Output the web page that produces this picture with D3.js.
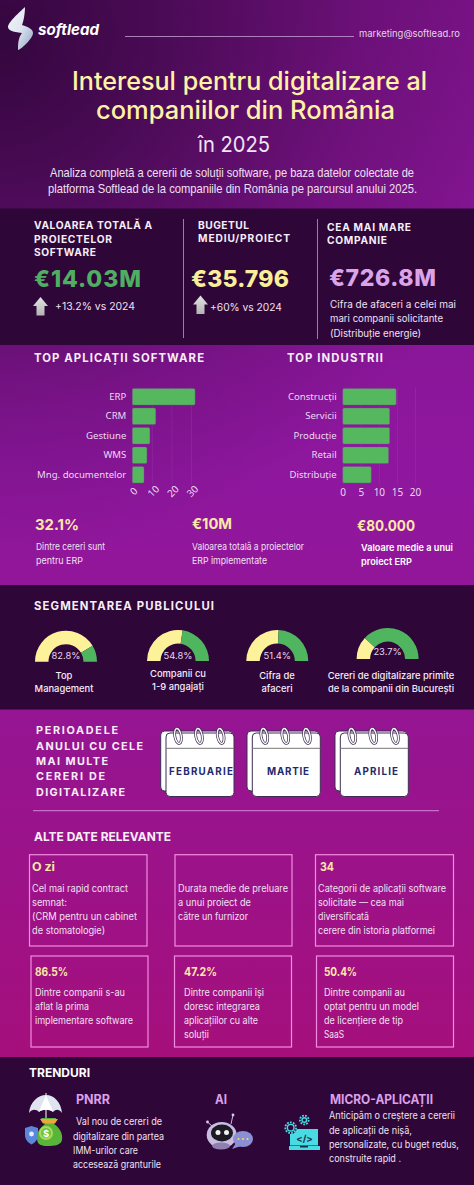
<!DOCTYPE html>
<html><head><meta charset="utf-8">
<script src="https://cdn.jsdelivr.net/npm/d3@7"></script>
<style>html,body{margin:0;padding:0;background:#36083f}svg{display:block}</style>
</head><body><svg id="c" width="474" height="1185"></svg>
<script>
// ---- data ----
const appNames = ["ERP","CRM","Gestiune","WMS","Mng. documentelor"];
const appValues = [32.1,12,9,7.5,6];
const appTicks = [0,10,20,30];
const industryNames = ["Construcții","Servicii","Producție","Retail","Distribuție"];
const industryValues = [14.8,13,13,12.7,7.9];
const industryTicks = [0,5,10,15,20];
const gaugeValues = [82.8,54.8,51.4,23.7];
const gaugeLabels = [["Top","Management"],["Companii cu","1-9 angajați"],["Cifra de","afaceri"],["Cereri de digitalizare primite","de la companii din București"]];
const months = ["FEBRUARIE","MARTIE","APRILIE"];

const FONT="Inter,'Liberation Sans',Arial,sans-serif", NOTO="'Noto Sans',sans-serif", LIB="'Liberation Sans',Arial,sans-serif";
const svg=d3.select("#c");
const defs=svg.append("defs");
function grad(id,a,stops,tag="linearGradient"){const g=defs.append(tag).attr("id",id);
  Object.entries(a).forEach(([k,v])=>g.attr(k,v));
  stops.forEach(s=>g.append("stop").attr("offset",s[0]).attr("stop-color",s[1]).attr("stop-opacity",s[2]===undefined?1:s[2]));}
grad("bg",{gradientUnits:"userSpaceOnUse",x1:0,y1:0,x2:0,y2:1185},[[0,"#7c1389"],[.4,"#8f179f"],[.65,"#97148f"],[.9,"#a60f7c"],[1,"#a60f7c"]]);
grad("dark",{gradientUnits:"userSpaceOnUse",cx:0,cy:40,r:520,fx:0,fy:40},[[0,"#30063a",.95],[.35,"#30063a",.62],[.7,"#30063a",.22],[1,"#30063a",0]],"radialGradient");
grad("logo",{x1:0,y1:0,x2:1,y2:1},[[0,"#f4f6fa"],[.5,"#dfe6f0"],[1,"#8fa3c4"]]);
grad("arr",{x1:0,y1:0,x2:0,y2:1},[[0,"#e4e4e4"],[1,"#b4b4b4"]]);

svg.append("rect").attr("width",474).attr("height",1185).attr("fill","url(#bg)");
svg.append("rect").attr("width",474).attr("height",1185).attr("fill","url(#dark)");
const PANEL="#2f0638";
[[208.5,136.5],[585,124.5],[1057,128]].forEach(p=>svg.append("rect").attr("x",0).attr("y",p[0]).attr("width",474).attr("height",p[1]).attr("fill",PANEL));

function t(x,y,s,size,fill,o={}){
  const e=svg.append("text").attr("x",x).attr("y",y).text(s).attr("font-size",size).attr("fill",fill)
    .attr("font-family",o.font||FONT).attr("font-weight",o.w||400).attr("text-anchor",o.a||"start");
  if(o.ital)e.attr("font-style","italic");
  if(o.len)e.attr("textLength",o.len).attr("lengthAdjust",o.adj||"spacingAndGlyphs");
  return e;
}
const W="#ffffff", BODY="#f0e0f2", HEAD="#f6eef8", CREAM="#fde8a8";

// header
svg.append("path").attr("d","M25,7C20,12 8,22 8,27C8,30 12,32 22,33C18,38 18,45 18,50C22,49 33,38 33,33C33,29 28,27 22,25C24,20 25,12 25,7Z").attr("fill","url(#logo)");
t(38,35,"softlead",15,W,{w:700,ital:true,len:61});
svg.append("line").attr("x1",125).attr("x2",354).attr("y1",36.5).attr("y2",36.5).attr("stroke","#c4a0d2").attr("stroke-width",.8);
t(359,37,"marketing@softlead.ro",9.5,"#e4d2ea",{len:101});
t(72,90,"Interesul pentru digitalizare al",25,"#fff2a6",{w:500,len:355});
t(96,119,"companiilor din România",25,"#fff2a6",{w:500,len:299});
t(198,152,"în 2025",22,"#f3e4f6",{len:72});
t(50,177,"Analiza completă a cererii de soluții software, pe baza datelor colectate de",12.4,BODY,{len:364,font:LIB});
t(48,193,"platforma Softlead de la companiile din România pe parcursul anului 2025.",12.4,BODY,{len:369,font:LIB});

// KPI row
function h(x,y,s,len,size=10.2){t(x,y,s,size,HEAD,{w:700,len,adj:"spacing"});}
h(34,229,"VALOAREA TOTALĂ A",118);h(34,242.5,"PROIECTELOR",78);h(34,256,"SOFTWARE",62);
h(198,228.5,"BUGETUL",51);h(198,242,"MEDIU/PROIECT",92);
h(327,231,"CEA MAI MARE",84);h(327,244,"COMPANIE",60);
t(34,287,"€14.03M",23,"#4fae62",{w:800,len:107,adj:"spacing"});
t(191,287,"€35.796",23,"#f9ee99",{w:800,len:98,adj:"spacing"});
t(329,286,"€726.8M",23,"#dba4e8",{w:800,len:107,adj:"spacing"});
function arrow(x,y){svg.append("path").attr("transform",`translate(${x},${y})`)
  .attr("d","M7.5,0L15,9L11.5,9L11.5,18.5L3.5,18.5L3.5,9L0,9Z").attr("fill","url(#arr)");}
arrow(33,297);arrow(193,295.5);
t(55,310,"+13.2% vs 2024",10.3,BODY,{len:80});
t(210,310.5,"+60% vs 2024",10.3,BODY,{len:72});
svg.append("line").attr("x1",183.5).attr("x2",183.5).attr("y1",219).attr("y2",338).attr("stroke","#a88bb4").attr("stroke-width",.9);
svg.append("line").attr("x1",317.5).attr("x2",317.5).attr("y1",219).attr("y2",339).attr("stroke","#a88bb4").attr("stroke-width",.9);
t(330,307.5,"Cifra de afaceri a celei mai",10,BODY,{len:126});
t(330,322,"mari companii solicitante",10,BODY,{len:113});
t(330,337,"(Distribuție energie)",10,BODY,{len:91});

// bar charts
function bars(names,vals,ticks,x0,x1,dmax,rotate){
  const x=d3.scaleLinear().domain([0,dmax]).range([x0,x1]);
  const y=d3.scaleBand().domain(names).range([387,484.5]).paddingInner(.144).paddingOuter(.072);
  const g=svg.append("g");
  const ax=g.append("g").attr("transform","translate(0,484.5)")
    .call(d3.axisBottom(x).tickValues(ticks).tickSize(-97).tickPadding(rotate?3:4));
  ax.select(".domain").remove();
  ax.selectAll("line").attr("stroke","#b66ac8").attr("stroke-opacity",.28).attr("stroke-width",.6);
  ax.selectAll("text").attr("fill","#ecd8f0").attr("font-size",10).attr("font-family",NOTO);
  if(rotate)ax.selectAll("text").attr("transform","rotate(-45)").attr("text-anchor","middle").attr("dx","-4px").attr("dy","6px");
  else ax.selectAll("text").attr("dy","7px");
  const ay=g.append("g").attr("transform",`translate(${x0},0)`).call(d3.axisLeft(y).tickSize(0).tickPadding(6));
  ay.select(".domain").remove();
  ay.selectAll("text").attr("fill","#ecd8f0").attr("font-size",9.6).attr("font-family",NOTO);
  g.selectAll("rect.b").data(vals).join("rect").attr("class","b")
   .attr("x",x0).attr("y",(d,i)=>y(names[i])).attr("width",d=>x(d)-x0).attr("height",y.bandwidth())
   .attr("rx",1.6).attr("fill","#55b85f").attr("stroke","#7a4a90").attr("stroke-width",.4);
}
h(34,361.5,"TOP APLICAȚII SOFTWARE",170,11.3);
h(287,361.5,"TOP INDUSTRII",96,11.3);
bars(appNames,appValues,appTicks,132.3,191,30,true);
bars(industryNames,industryValues,industryTicks,342.7,415,20,false);
t(35,530,"32.1%",15,CREAM,{w:700,len:44});
t(192,529,"€10M",15,CREAM,{w:700,len:40});
t(357,531,"€80.000",15,CREAM,{w:700,len:58});
t(36,549.5,"Dintre cereri sunt",9.4,BODY,{len:69});
t(36,563.5,"pentru ERP",9.4,BODY,{len:47});
t(192,549.5,"Valoarea totală a proiectelor",9.4,BODY,{len:112});
t(192,563.5,"ERP implementate",9.4,BODY,{len:75});
t(361,551,"Valoare medie a unui",9.4,W,{w:600,len:92});
t(361,564.5,"proiect ERP",9.4,W,{w:600,len:51});

// gauges
h(34,609.5,"SEGMENTAREA PUBLICULUI",180,11.3);
const angle=d3.scaleLinear().domain([0,100]).range([-Math.PI/2,Math.PI/2]);
const arc=d3.arc().innerRadius(17.5).outerRadius(31);
const gaugeX=[66,178,277.3,387.6], gaugeY=[661.7,661,661,659], pctY=[658.5,658.5,658.5,655];
const labelX=[64,178,277,391], labelY=[[678.5,691.5],[677,690],[678.5,691.5],[678.5,691.5]];
gaugeValues.forEach((v,i)=>{
  const g=svg.append("g").attr("transform",`translate(${gaugeX[i]},${gaugeY[i]})`);
  g.append("path").attr("d",arc({startAngle:angle(0),endAngle:angle(v)})).attr("fill","#fdf29a");
  g.append("path").attr("d",arc({startAngle:angle(v),endAngle:angle(100)})).attr("fill","#4fb55f");
  t(gaugeX[i],pctY[i],v+"%",9.4,"#e8d8ee",{a:"middle"});
  gaugeLabels[i].forEach((l,j)=>t(labelX[i],labelY[i][j],l,9.4,"#f6ecf8",{a:"middle",w:500}));
});

// calendar periods
["PERIOADELE","ANULUI CU CELE","MAI MULTE","CERERI DE","DIGITALIZARE"].forEach((s,i)=>{
  h(36,[734,749.5,765,780,795.5][i],s,[82,107,72,69,89][i],10.8);
});
const calX=[166,252.3,340.3], calLen=[64,42,44], calTx=[169,267,354];
function calendar(x){
  const g=svg.append("g").attr("transform",`translate(${x},0)`);
  const st="#3e2d52";
  g.append("rect").attr("x",-5.3).attr("y",731).attr("width",72).attr("height",60).attr("rx",4).attr("fill","#fff").attr("stroke",st).attr("stroke-width",1);
  g.append("rect").attr("x",0).attr("y",733).attr("width",68).attr("height",63.5).attr("rx",4).attr("fill","#fff").attr("stroke",st).attr("stroke-width",1);
  g.append("line").attr("x1",0).attr("x2",68).attr("y1",748.3).attr("y2",748.3).attr("stroke","#777").attr("stroke-width",1);
  [12,33,54.7].forEach(dx=>{
    g.append("ellipse").attr("cx",0).attr("cy",0).attr("rx",3.2).attr("ry",7.6).attr("transform",`translate(${dx},736) rotate(-10)`)
     .attr("fill","none").attr("stroke",st).attr("stroke-width",2.8);
    g.append("ellipse").attr("cx",0).attr("cy",0).attr("rx",3.2).attr("ry",7.6).attr("transform",`translate(${dx},736) rotate(-10)`)
     .attr("fill","none").attr("stroke","#fff").attr("stroke-width",1.4);
  });
}
months.forEach((m,i)=>{calendar(calX[i]);t(calTx[i],774.5,m,9.8,"#1f2a6e",{w:700,len:calLen[i],adj:"spacing"});});
svg.append("line").attr("x1",33).attr("x2",439).attr("y1",810.7).attr("y2",810.7).attr("stroke","#d584dc").attr("stroke-width",1);
t(34,841,"ALTE DATE RELEVANTE",12,HEAD,{w:700,len:137});

// boxes
[[29.5,854.7,117.5,91.3],[175,854.7,117,91.3],[315.5,854.7,138,91.3],[31,956,117,91],[174.5,956,117,91],[316.5,956,137,91]]
 .forEach(b=>svg.append("rect").attr("x",b[0]).attr("y",b[1]).attr("width",b[2]).attr("height",b[3]).attr("fill","none").attr("stroke","#f28ce2").attr("stroke-width",1.2));
const Y1=[891.7,905.7,920,934], Y2=[996,1010,1024.3,1038];
function lines(x,ys,arr,size=9.9){arr.forEach((a,i)=>t(x,ys[i],a[0],size,BODY,{len:a[1]}));}
t(32,871,"O zi",11.5,CREAM,{w:700,len:23});
lines(32,Y1,[["Cel mai rapid contract",96],["semnat:",35],["(CRM pentru un cabinet",105],["de stomatologie)",73]]);
lines(178,Y1,[["Durata medie de preluare",110],["a unui proiect de",73],["către un furnizor",70]]);
t(320,871,"34",11.5,CREAM,{w:700,len:14});
lines(318,Y1,[["Categorii de aplicații software",128],["solicitate — cea mai",86],["diversificată",51],["cerere din istoria platformei",117]]);
t(35,976,"86.5%",11.5,CREAM,{w:700,len:33});
lines(35,Y2,[["Dintre companii s-au",90],["aflat la prima",54],["implementare software",98]]);
t(184,976,"47.2%",11.5,CREAM,{w:700,len:33});
lines(184,Y2,[["Dintre companii își",80],["doresc integrarea",76],["aplicațiilor cu alte",74],["soluții",25]]);
t(324,976,"50.4%",11.5,CREAM,{w:700,len:33});
lines(324,Y2,[["Dintre companii au",81],["optat pentru un model",95],["de licențiere de tip",79],["SaaS",20]]);

// trends
t(29,1077,"TRENDURI",12,W,{w:700,len:61});
const PINK="#dba0e8";
t(76,1104,"PNRR",12.5,PINK,{w:700,len:34});
t(215,1104,"AI",12.5,PINK,{w:700,len:12});
t(330,1104,"MICRO-APLICAȚII",12.5,PINK,{w:700,len:103});
lines(76,[1125],[["Val nou de cereri de",86]]);
lines(73,[1139.5,1154,1168],[["digitalizare din partea",91],["IMM-urilor care",65],["accesează granturile",88]]);
lines(329,[1118.5,1133.5,1147.5,1162],[["Anticipăm o creștere a cererii",126],["de aplicații de nișă,",83],["personalizate, cu buget redus,",130],["construite rapid .",72]]);

// icon: umbrella and bag
const ic=svg.append("g");
ic.append("line").attr("x1",46).attr("x2",46).attr("y1",1093).attr("y2",1120).attr("stroke","#d8dde6").attr("stroke-width",1.2);
ic.append("path").attr("d","M29,1113C30,1102 38,1095 46,1095C54,1095 61,1102 62,1113C59,1109 56,1109 53,1112C50,1109 42,1109 39,1112C36,1109 32,1109 29,1113Z").attr("fill","#dfe4ee");
ic.append("path").attr("d","M39,1112C42,1109 50,1109 53,1112C51,1106 48,1100 46,1095C44,1100 41,1106 39,1112Z").attr("fill","#fff");
ic.append("path").attr("d","M41,1118H56L54,1124C60,1128 63,1134 62,1140C61,1145 55,1146 47,1146C40,1146 37,1144 37,1138C37,1131 41,1127 45,1124Z").attr("fill","#58b53a");
ic.append("path").attr("d","M40,1119H58L55,1123.5H43Z").attr("fill","#e8a93a");
ic.append("circle").attr("cx",46).attr("cy",1133).attr("r",7).attr("fill","#a6dc5a");
ic.append("circle").attr("cx",46).attr("cy",1133).attr("r",5).attr("fill","#6cc244");
ic.append("text").attr("x",46).attr("y",1136.5).attr("text-anchor","middle").attr("font-size",9.5).attr("font-weight",700).attr("font-family",FONT).attr("fill","#fff").text("$");
ic.append("path").attr("d","M25,1128L31.5,1126L38,1128V1135C38,1140 34.5,1143 31.5,1144.5C28.5,1143 25,1140 25,1135Z").attr("fill","#5a87dc");
ic.append("circle").attr("cx",31.5).attr("cy",1134).attr("r",2.4).attr("fill","#e6eeff");

// icon: robot
const rb=svg.append("g");
[[207.5,1122,213,1127],[233,1115,231,1124]].forEach(p=>{
  rb.append("line").attr("x1",p[0]).attr("y1",p[1]).attr("x2",p[2]).attr("y2",p[3]).attr("stroke","#cbb8e4").attr("stroke-width",1);
  rb.append("circle").attr("cx",p[0]).attr("cy",p[1]).attr("r",1.4).attr("fill","#d8c8ec");
});
rb.append("ellipse").attr("cx",221.7).attr("cy",1135).attr("rx",15).attr("ry",13).attr("fill","#c9bde2");
rb.append("ellipse").attr("cx",221).attr("cy",1146).attr("rx",9).attr("ry",3.5).attr("fill","#8e7fb0");
rb.append("ellipse").attr("cx",222).attr("cy",1133).attr("rx",11).attr("ry",8.5).attr("fill","#1c1a24");
rb.append("circle").attr("cx",218).attr("cy",1132.5).attr("r",2.5).attr("fill","#f2f2f2");
rb.append("circle").attr("cx",226.5).attr("cy",1132.5).attr("r",2.5).attr("fill","#f2f2f2");
rb.append("ellipse").attr("cx",243).attr("cy",1139).attr("rx",10).attr("ry",8).attr("fill","#8b90d4");
rb.append("path").attr("d","M236,1143L232,1149L241,1146Z").attr("fill","#8b90d4");
[238.5,243,247.5].forEach(x=>rb.append("circle").attr("cx",x).attr("cy",1139).attr("r",1).attr("fill","#f4e25a"));

// icon: laptop with gears
const lp=svg.append("g"), CY="#49dbe4", DK="#17304a";
lp.append("rect").attr("x",290).attr("y",1129).attr("width",28).attr("height",16.5).attr("fill",CY);
lp.append("rect").attr("x",289).attr("y",1146).attr("width",31).attr("height",4).attr("fill",CY);
lp.append("rect").attr("x",300).attr("y",1146).attr("width",8).attr("height",1.5).attr("fill",DK);
lp.append("text").attr("x",304.5).attr("y",1141.5).attr("text-anchor","middle").attr("font-size",9.5).attr("font-weight",700).attr("font-family",FONT).attr("fill",DK).text("</>");
[[290.7,1127.7,6],[304.3,1120,5]].forEach(g=>{
  lp.append("circle").attr("cx",g[0]).attr("cy",g[1]).attr("r",g[2]+.3).attr("fill",PANEL);
  lp.append("circle").attr("cx",g[0]).attr("cy",g[1]).attr("r",g[2]-.6).attr("fill","none").attr("stroke",CY).attr("stroke-width",1.8).attr("stroke-dasharray","1.8 1.2");
  lp.append("circle").attr("cx",g[0]).attr("cy",g[1]).attr("r",g[2]-2).attr("fill",CY);
  lp.append("circle").attr("cx",g[0]).attr("cy",g[1]).attr("r",g[2]-3.4).attr("fill",PANEL);
});
</script></body></html>
